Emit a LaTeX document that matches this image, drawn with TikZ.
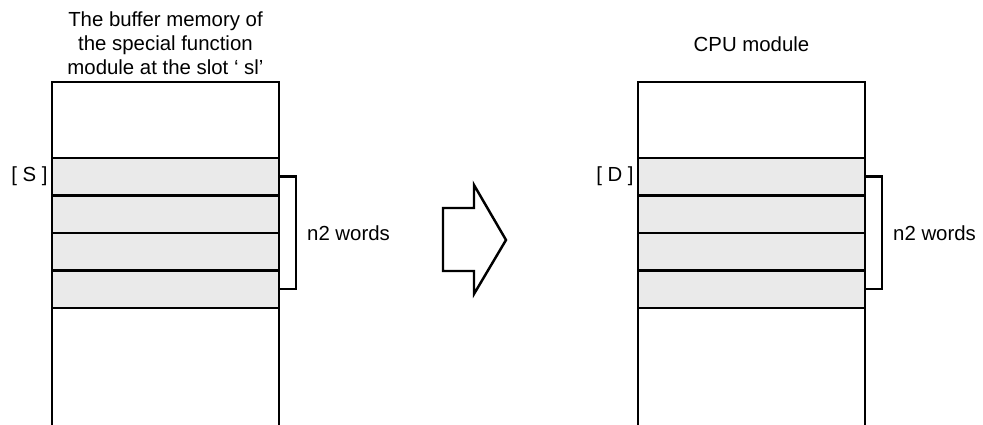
\documentclass[tikz,border=0pt]{standalone}
\usepackage{fontspec}
\setmainfont{Liberation Sans}
\usepackage{xcolor}
\usepackage{tikz}
\usetikzlibrary{positioning}

\definecolor{wordgray}{HTML}{EAEAEA}

\begin{document}
\begin{tikzpicture}[
    x=0.02cm, y=-0.02cm,
    node distance=0cm,
    cell/.style={rectangle, draw, line width=1.4pt, minimum width=4.54cm, inner sep=0pt, outer sep=0pt},
    topcell/.style={cell, minimum height=1.52cm},
    word/.style={cell, fill=wordgray, minimum height=0.75cm},
    label/.style={inner sep=0pt, font=\fontsize{11.6}{13.7}\selectfont, align=center},
    brace/.style={line width=1.4pt},
    bigarrow/.style={line width=1.4pt, line join=miter}
]
\useasboundingbox (0,0) rectangle (983,425);

% Source - buffer memory
\node[topcell, anchor=north west] (ltop) at (52,82) {};
\node[word, below=of ltop] (lw1) {};
\node[word, below=of lw1] (lw2) {};
\node[word, below=of lw2] (lw3) {};
\node[word, below=of lw3] (lw4) {};
\coordinate (lbot) at (52,425);

\node[label, above=0.14cm of ltop] (ltitle) {The buffer memory of\\the special function\\module at the slot ` sl'};
\node[label, left=0.08cm of lw1] (lstart) {[ S ]};

% Destination - CPU module
\node[topcell, anchor=north west] (rtop) at (638,82) {};
\node[word, below=of rtop] (rw1) {};
\node[word, below=of rw1] (rw2) {};
\node[word, below=of rw2] (rw3) {};
\node[word, below=of rw3] (rw4) {};
\coordinate (rbot) at (638,425);

\node[label, above=0.6cm of rtop] (rtitle) {CPU module};
\node[label, left=0.08cm of rw1] (rstart) {[ D ]};

% Open bottoms
\draw[brace] (lw4.south west) -- (lw4.south west |- lbot);
\draw[brace] (lw4.south east) -- (lw4.south east |- lbot);
\draw[brace] (rw4.south west) -- (rw4.south west |- rbot);
\draw[brace] (rw4.south east) -- (rw4.south east |- rbot);

% Brackets - word count
\draw[brace] (lw1.east) -- ++(17,0) |- node[label, pos=0.25, right=0.2cm] (lcount) {n2 words} (lw4.east);
\draw[brace] (rw1.east) -- ++(17,0) |- node[label, pos=0.25, right=0.2cm] (rcount) {n2 words} (rw4.east);

% Transfer arrow
\draw[bigarrow] (443,208) -- (474,208) -- (474,185) -- (506,240) -- (474,294) -- (474,271) -- (443,271) -- cycle;

\end{tikzpicture}
\end{document}
